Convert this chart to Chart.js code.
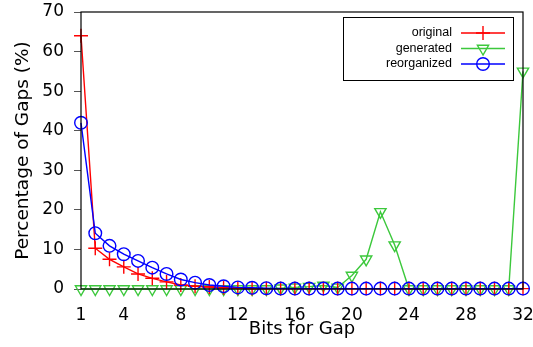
<!DOCTYPE html>
<html>
<head>
<meta charset="utf-8">
<script src="https://cdn.jsdelivr.net/npm/chart.js@4"></script>
<style>
  html, body { margin: 0; padding: 0; background: #fff; }
  #wrap { width: 533px; height: 347px; }
</style>
</head>
<body>
<div id="wrap"><canvas id="chart" width="533" height="347"></canvas></div>
<script>
const bits = [1, 2, 3, 4, 5, 6, 7, 8, 9, 10, 11, 12, 13, 14, 15, 16,
  17, 18, 19, 20, 21, 22, 23, 24, 25, 26, 27, 28, 29, 30, 31, 32];
const original = [64, 10.3, 7.5, 5.6, 3.8, 2.7, 1.8, 1.0, 0.7, 0.5, 0.3, 0.2, 0.1, 0.1, 0.1, 0.1,
  0.1, 0.1, 0.1, 0.1, 0.1, 0.1, 0.1, 0.1, 0.1, 0.1, 0.1, 0.1, 0.1, 0.1, 0.1, 0.1];
const generated = [0, 0, 0, 0, 0, 0, 0, 0, 0, 0, 0, 0, 0, 0, 0.2, 0.4,
  0.6, 0.9, 0.4, 3.4, 7.5, 19.5, 11.1, 0, 0, 0, 0, 0, 0, 0, 0, 55];
const reorganized = [42, 14.1, 10.9, 8.8, 7.1, 5.4, 3.8, 2.4, 1.6, 1.0, 0.7, 0.4, 0.3, 0.2, 0.1, 0.1,
  0.1, 0.1, 0.1, 0.1, 0.1, 0.1, 0.1, 0.1, 0.1, 0.1, 0.1, 0.1, 0.1, 0.1, 0.1, 0.1];
const seriesNames = ["original", "generated", "reorganized"];
const xTicks = [1, 4, 8, 12, 16, 20, 24, 28, 32];
const yTicks = [0, 10, 20, 30, 40, 50, 60, 70];

const colors = ["#ff0000", "#3cc83c", "#0000ff"];
const markers = [
  { pointStyle: "cross", rotation: 0, radius: 7 },
  { pointStyle: "triangle", rotation: 180, radius: 6.5 },
  { pointStyle: "circle", rotation: 0, radius: 6.3 },
];
const values = [original, generated, reorganized];

const makeSet = (i, order) => ({
  label: seriesNames[i],
  data: bits.map((b, k) => ({ x: b, y: values[i][k] })),
  borderColor: colors[i],
  backgroundColor: "rgba(0,0,0,0)",
  borderWidth: 1.4,
  pointStyle: markers[i].pointStyle,
  rotation: markers[i].rotation,
  pointRadius: markers[i].radius,
  pointBorderWidth: 1.4,
  pointBorderColor: colors[i],
  pointBackgroundColor: "rgba(0,0,0,0)",
  tension: 0,
  clip: false,
  order: order,
});

// frame around plot area (gnuplot style box)
const frame = {
  id: "frame",
  afterDatasetsDraw(chart) {
    const a = chart.chartArea;
    const ctx = chart.ctx;
    ctx.save();
    ctx.strokeStyle = "#000";
    ctx.lineWidth = 1.2;
    ctx.strokeRect(a.left, a.top, a.right - a.left, a.bottom - a.top);
    ctx.restore();
  },
};

// legend box in upper right, text right-aligned left of sample
const keyBox = {
  id: "keyBox",
  afterDraw(chart) {
    const ctx = chart.ctx;
    const bx = 343, by = 17, bw = 170, bh = 63;
    ctx.save();
    ctx.fillStyle = "#fff";
    ctx.fillRect(bx, by, bw, bh);
    ctx.strokeStyle = "#000";
    ctx.lineWidth = 1;
    ctx.strokeRect(bx + 0.5, by + 0.5, bw, bh);
    ctx.font = "12.5px 'Liberation Sans', Arial, sans-serif";
    ctx.textAlign = "right";
    ctx.textBaseline = "middle";
    seriesNames.forEach((name, i) => {
      const y = 33 + i * 15.5;
      ctx.fillStyle = "#000";
      ctx.fillText(name, 452, y);
      ctx.strokeStyle = colors[i];
      ctx.lineWidth = 1.4;
      ctx.beginPath();
      ctx.moveTo(461, y);
      ctx.lineTo(505, y);
      ctx.stroke();
      ctx.fillStyle = "rgba(0,0,0,0)";
      Chart.helpers.drawPoint(ctx, {
        pointStyle: markers[i].pointStyle,
        rotation: markers[i].rotation,
        radius: markers[i].radius,
        borderWidth: 1.4,
      }, 483, y);
    });
    ctx.restore();
  },
};

const ctx = document.getElementById("chart");
const chart = new Chart(ctx, {
  type: "line",
  data: {
    datasets: [makeSet(0, 1), makeSet(1, 2), makeSet(2, 0)],
  },
  options: {
    responsive: false,
    animation: false,
    devicePixelRatio: 1,
    layout: { padding: { top: 12, right: 10, left: 0, bottom: 0 } },
    plugins: {
      legend: { display: false },
      tooltip: { enabled: false },
    },
    scales: {
      x: {
        type: "linear",
        min: 1,
        max: 32,
        afterBuildTicks: (scale) => {
          scale.ticks = xTicks.map((v) => ({ value: v }));
        },
        afterFit: (scale) => {
          scale.height = 58;
          scale.paddingLeft = 0;
          scale.paddingRight = 0;
        },
        grid: { display: false },
        border: { display: false },
        ticks: {
          color: "#000",
          padding: 8,
          maxRotation: 0,
          autoSkip: false,
          font: { family: "'DejaVu Sans', sans-serif", size: 17 },
        },
        title: {
          display: true,
          text: "Bits for Gap",
          color: "#000",
          padding: { top: 0, bottom: 7 },
          font: { family: "'DejaVu Sans', sans-serif", size: 18 },
        },
      },
      y: {
        min: 0,
        max: 70,
        afterBuildTicks: (scale) => {
          scale.ticks = yTicks.map((v) => ({ value: v }));
        },
        afterFit: (scale) => {
          scale.width = 81;
          scale.paddingTop = 0;
          scale.paddingBottom = 0;
        },
        grid: {
          drawOnChartArea: false,
          tickLength: 7,
          color: "#555",
          lineWidth: 1,
        },
        border: { display: false },
        ticks: {
          color: "#000",
          padding: 10,
          font: { family: "'DejaVu Sans', sans-serif", size: 17 },
        },
        title: {
          display: true,
          text: "Percentage of Gaps (%)",
          color: "#000",
          padding: { top: 12, bottom: 0 },
          font: { family: "'DejaVu Sans', sans-serif", size: 18.5 },
        },
      },
    },
  },
  plugins: [frame, keyBox],
});
</script>
</body>
</html>
